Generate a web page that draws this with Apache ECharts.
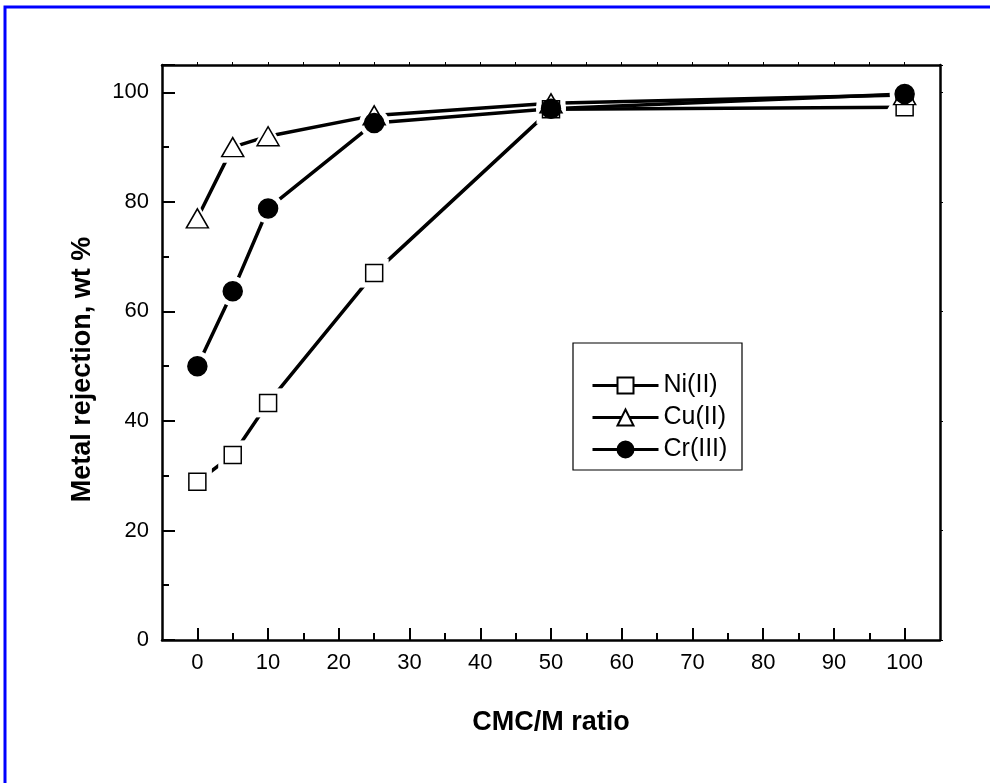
<!DOCTYPE html>
<html>
<head>
<meta charset="utf-8">
<script src="https://cdn.jsdelivr.net/npm/echarts@6/dist/echarts.min.js"></script>
<style>
html,body{margin:0;padding:0;background:#fff;}
#chart{width:990px;height:783px;}
</style>
</head>
<body>
<div id="chart"></div>
<script>
// ---- data ----
const ratios = [0, 5, 10, 25, 50, 100];
const niValues = [28.9, 33.8, 43.3, 67.0, 96.9, 97.3];
const cuValues = [77.0, 90.0, 92.0, 95.8, 98.0, 99.5];
const crValues = [50.0, 63.7, 78.8, 94.4, 97.0, 99.7];
const seriesNames = ['Ni(II)', 'Cu(II)', 'Cr(III)'];
const xMajorTicks = [0, 10, 20, 30, 40, 50, 60, 70, 80, 90, 100];
const xMinorTicks = [5, 15, 25, 35, 45, 55, 65, 75, 85, 95];
const xTopTicks = [0, 5, 10, 15, 20, 25, 30, 35, 40, 45, 50, 55, 60, 65, 70, 75, 80, 85, 90, 95, 100];

const FONT = 'Liberation Sans, Arial, Helvetica, sans-serif';
const pairs = v => ratios.map((x, i) => [x, v[i]]);

const markers = [
  { name: seriesNames[0], data: niValues, symbol: 'rect', size: 17, fill: '#fff', halo: 29 },
  { name: seriesNames[1], data: cuValues, symbol: 'triangle', size: [22, 19], fill: '#fff', halo: [36, 31] },
  { name: seriesNames[2], data: crValues, symbol: 'circle', size: 19, fill: '#000', halo: 30 }
];

const series = [];
markers.forEach(m => {
  // connecting line (also used by the legend)
  series.push({
    name: m.name, type: 'line', data: pairs(m.data), z: 1,
    symbol: m.symbol, symbolSize: m.size, showSymbol: true,
    lineStyle: { color: '#000', width: 3.5 },
    itemStyle: { color: m.fill, borderColor: '#000', borderWidth: 1.5 },
    emphasis: { disabled: true }, silent: true
  });
});
markers.forEach(m => {
  // white halo making gaps in the lines around the markers
  series.push({
    name: m.name + '_halo', type: 'scatter', data: pairs(m.data), z: 2,
    symbol: m.symbol, symbolSize: m.halo,
    itemStyle: { color: '#ffffff', borderWidth: 0, opacity: 1 },
    emphasis: { disabled: true }, silent: true
  });
});
markers.forEach(m => {
  series.push({
    name: m.name + '_mark', type: 'scatter', data: pairs(m.data), z: 3,
    symbol: m.symbol, symbolSize: m.size,
    itemStyle: { color: m.fill, borderColor: '#000', borderWidth: 1.5, opacity: 1 },
    emphasis: { disabled: true }, silent: true
  });
});

const chart = echarts.init(document.getElementById('chart'), null, { renderer: 'canvas' });
chart.setOption({
  animation: false,
  backgroundColor: '#fff',
  textStyle: { fontFamily: FONT },
  grid: { left: 162, right: 50, top: 65, bottom: 143, containLabel: false, outerBoundsMode: 'none' },
  graphic: [
    { type: 'rect', shape: { x: 5, y: 7, width: 1100, height: 900 }, style: { fill: null, stroke: '#0000ff', lineWidth: 3 }, silent: true },
    { type: 'rect', shape: { x: 573, y: 343, width: 169, height: 127 }, style: { fill: '#fff', stroke: '#000', lineWidth: 1.2 }, z: 50, silent: true }
  ],
  legend: {
    data: seriesNames, orient: 'vertical', left: 586, top: 368, z: 60,
    itemWidth: 66, itemHeight: 20, itemGap: 7,
    lineStyle: { width: 3, color: '#000' },
    textStyle: { fontFamily: FONT, fontSize: 25, color: '#000', lineHeight: 24 },
    selectedMode: false
  },
  xAxis: [
    {
      type: 'value', min: -5, max: 105, position: 'bottom',
      name: 'CMC/M ratio', nameLocation: 'middle', nameGap: 69,
      nameTextStyle: { fontFamily: FONT, fontWeight: 'bold', fontSize: 27, color: '#000' },
      axisLine: { show: true, onZero: false, lineStyle: { color: '#000', width: 2.5 } },
      axisTick: { show: true, inside: true, length: 12, customValues: xMajorTicks, lineStyle: { color: '#000', width: 2 } },
      axisLabel: { show: true, customValues: xMajorTicks, margin: 12, fontFamily: FONT, fontSize: 22, color: '#000' },
      splitLine: { show: false }
    },
    {
      type: 'value', min: -5, max: 105, position: 'bottom',
      axisLine: { show: false },
      axisTick: { show: true, inside: true, length: 7, customValues: xMinorTicks, lineStyle: { color: '#000', width: 2 } },
      axisLabel: { show: false },
      splitLine: { show: false }
    },
    {
      type: 'value', min: -5, max: 105, position: 'top',
      axisLine: { show: true, onZero: false, lineStyle: { color: '#000', width: 2.5 } },
      axisTick: { show: true, inside: false, length: 3, customValues: xTopTicks, lineStyle: { color: '#000', width: 1 } },
      axisLabel: { show: false },
      splitLine: { show: false }
    }
  ],
  yAxis: [
    {
      type: 'value', min: 0, max: 105, interval: 20, position: 'left',
      name: 'Metal rejection, wt %', nameLocation: 'middle', nameGap: 66,
      nameTextStyle: { fontFamily: FONT, fontWeight: 'bold', fontSize: 27, color: '#000', padding: [0, 34, 0, 0] },
      axisLine: { show: true, onZero: false, lineStyle: { color: '#000', width: 2.5 } },
      axisTick: { show: true, inside: true, length: 13, lineStyle: { color: '#000', width: 2 } },
      minorTick: { show: true, splitNumber: 2, length: 7, lineStyle: { color: '#000', width: 2 } },
      axisLabel: { show: true, margin: 13, fontFamily: FONT, fontSize: 22, color: '#000', showMaxLabel: false },
      splitLine: { show: false }, minorSplitLine: { show: false }
    },
    {
      type: 'value', min: 0, max: 105, interval: 20, position: 'right',
      axisLine: { show: true, onZero: false, lineStyle: { color: '#000', width: 2.5 } },
      axisTick: { show: true, inside: false, length: 3, lineStyle: { color: '#000', width: 1 } },
      axisLabel: { show: false },
      splitLine: { show: false }
    }
  ],
  series: series
});
</script>
</body>
</html>
